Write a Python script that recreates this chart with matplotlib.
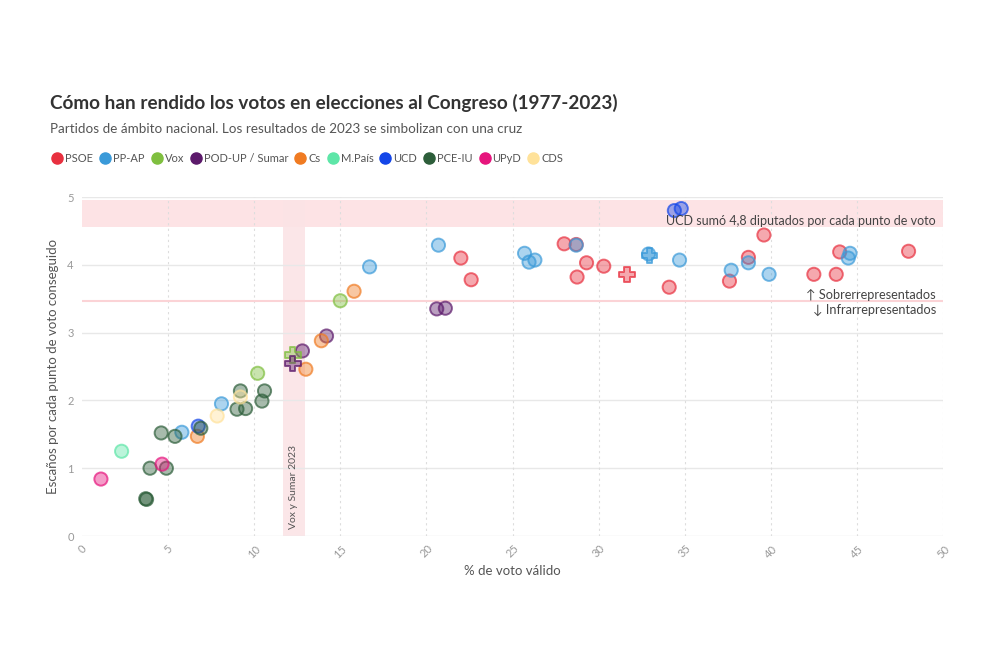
import matplotlib
matplotlib.use("Agg")
import matplotlib.pyplot as plt
from matplotlib.lines import Line2D

plt.rcParams['font.family'] = ['Lato', 'DejaVu Sans']

parties = ["PSOE", "PP-AP", "Vox", "POD-UP / Sumar", "Cs", "M.País", "UCD", "PCE-IU", "UPyD", "CDS"]
colors = ["#e8303f", "#3a9ad9", "#7fbf3f", "#5c1a6b", "#f07b22", "#5ee6a8", "#1446e8", "#2d5e3a", "#e6157d", "#ffe29a"]

# % de voto válido, escaños por punto (históricos)
psoe_x = [29.3, 30.3, 48.0, 44.0, 39.6, 38.7, 37.6, 34.1, 42.5, 43.8, 28.75, 22.0, 22.6, 28.7, 28.0]
psoe_y = [4.03, 3.98, 4.20, 4.19, 4.44, 4.11, 3.76, 3.67, 3.86, 3.86, 3.82, 4.10, 3.78, 4.30, 4.31]
pp_x = [8.1, 5.8, 26.3, 25.96, 25.7, 34.7, 38.7, 44.5, 37.7, 39.9, 44.6, 28.7, 32.9, 16.7, 20.7]
pp_y = [1.95, 1.53, 4.07, 4.04, 4.17, 4.07, 4.03, 4.10, 3.92, 3.86, 4.17, 4.29, 4.16, 3.97, 4.29]
vox_x = [10.2, 15.0]
vox_y = [2.40, 3.47]
pod_x = [20.6, 21.1, 14.2, 12.8]
pod_y = [3.35, 3.36, 2.95, 2.73]
cs_x = [13.9, 13.0, 15.8, 6.7]
cs_y = [2.88, 2.46, 3.61, 1.47]
mp_x = [2.3]
mp_y = [1.25]
ucd_x = [34.4, 34.8, 6.75]
ucd_y = [4.80, 4.83, 1.62]
iu_x = [9.2, 10.6, 3.95, 4.6, 9.0, 9.5, 10.45, 5.4, 4.9, 3.7, 6.9, 3.75]
iu_y = [2.14, 2.14, 1.00, 1.52, 1.87, 1.88, 1.99, 1.47, 1.00, 0.55, 1.59, 0.54]
upyd_x = [1.1, 4.65]
upyd_y = [0.84, 1.06]
cds_x = [9.2, 7.85]
cds_y = [2.05, 1.77]

# 2023 (cruces)
c23_party = ["PSOE", "PP-AP", "Vox", "POD-UP / Sumar"]
c23_x = [31.65, 32.95, 12.25, 12.25]
c23_y = [3.86, 4.14, 2.67, 2.54]

series = {
    "PSOE": (psoe_x, psoe_y), "PP-AP": (pp_x, pp_y), "Vox": (vox_x, vox_y),
    "POD-UP / Sumar": (pod_x, pod_y), "Cs": (cs_x, cs_y), "M.País": (mp_x, mp_y),
    "UCD": (ucd_x, ucd_y), "PCE-IU": (iu_x, iu_y), "UPyD": (upyd_x, upyd_y), "CDS": (cds_x, cds_y),
}
cmap = dict(zip(parties, colors))

fig = plt.figure(figsize=(10, 6.67), dpi=100)
ax = fig.add_axes([0.082, 0.1964, 0.861, 0.5082])
ax.set_xlim(0, 50)
ax.set_ylim(0, 5)

# Bands / reference
ax.axhspan(4.56, 4.95, color="#fde3e5", zorder=0, lw=0)
ax.axhline(3.46, color="#fbd3d6", lw=1.5, zorder=1)
ax.fill_between([11.7, 12.95], 0, 4.95, color="#fbe4e6", zorder=0, lw=0, alpha=0.9)

ax.text(12.3, 0.1, "Vox y Sumar 2023", rotation=90, ha="center", va="bottom",
        fontsize=7.5, color="#555555", zorder=2)
ax.text(49.6, 4.64, "UCD sumó 4,8 diputados por cada punto de voto", ha="right", va="center",
        fontsize=9.0, color="#444444", zorder=4, family=['Lato', 'DejaVu Sans'])
ax.text(49.6, 3.55, "↑ Sobrerrepresentados", ha="right", va="center",
        fontsize=9.2, color="#444444", family=['Lato', 'DejaVu Sans'])
ax.text(49.6, 3.33, "↓ Infrarrepresentados", ha="right", va="center",
        fontsize=9.2, color="#444444", family=['Lato', 'DejaVu Sans'])

# grid
for yv in range(0, 6):
    ax.axhline(yv, color="#e8e8e8", lw=1, zorder=0.5)
for xv in range(5, 51, 5):
    ax.axvline(xv, color="#dddddd", lw=0.8, ls=(0, (2, 3)), zorder=0.5)

for name in parties:
    xs, ys = series[name]
    c = cmap[name]
    ax.scatter(xs, ys, s=90, facecolor=c, alpha=0.42, edgecolor="none", zorder=3)
    ax.scatter(xs, ys, s=90, facecolor="none", edgecolor=c, linewidth=1.4, alpha=0.7, zorder=3)

for p, x, y in zip(c23_party, c23_x, c23_y):
    c = cmap[p]
    ax.scatter([x], [y], s=120, marker="P", facecolor=c, alpha=0.42, edgecolor="none", zorder=3)
    ax.scatter([x], [y], s=120, marker="P", facecolor="none", edgecolor=c, linewidth=1.4, alpha=0.75, zorder=3)

for s in ax.spines.values():
    s.set_visible(False)
ax.set_xticks(range(0, 51, 5))
ax.set_yticks(range(0, 6))
ax.tick_params(length=0, labelsize=8, colors="#999999")
for lbl in ax.get_xticklabels():
    lbl.set_rotation(45)
ax.tick_params(axis="x", pad=5)
ax.tick_params(axis="y", pad=6)
ax.set_xlabel("% de voto válido", fontsize=9.5, color="#555555", labelpad=4)
ax.set_ylabel("Escaños por cada punto de voto conseguido", fontsize=9.5, color="#555555", labelpad=6)

fig.text(0.05, 0.846, "Cómo han rendido los votos en elecciones al Congreso (1977-2023)",
         fontsize=13.6, fontweight="bold", color="#333333", va="center")
fig.text(0.05, 0.806, "Partidos de ámbito nacional. Los resultados de 2023 se simbolizan con una cruz",
         fontsize=9.7, color="#555555", va="center")

# legend
renderer = fig.canvas.get_renderer()
cx = 0.057
ly = 0.763
for name in parties:
    fig.add_artist(Line2D([cx], [ly], marker="o", markersize=8, color=cmap[name], lw=0,
                          transform=fig.transFigure))
    t = fig.text(cx + 0.008, ly, name, fontsize=8, color="#555555", va="center")
    bb = t.get_window_extent(renderer=renderer)
    cx = cx + 0.008 + bb.width / fig.bbox.width + 0.012

fig.savefig("out.png", dpi=100, facecolor="white")
